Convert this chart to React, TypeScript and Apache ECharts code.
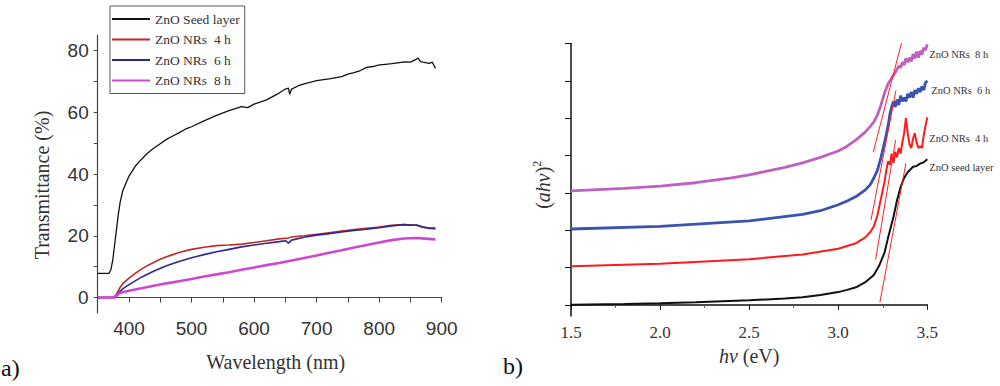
import React, { useEffect, useRef } from "react";
import * as echarts from "echarts";

// ---------- (a) Transmittance ----------
const seedWl = [350, 360, 368, 371, 374, 377, 380, 383, 386, 390, 395, 400, 410, 420, 430, 440, 450, 460, 470, 480, 490, 500, 520, 540, 560, 580, 590, 600, 620, 640, 650, 655, 657, 660, 670, 680, 700, 720, 740, 750, 760, 770, 780, 790, 800, 810, 820, 830, 840, 850, 860, 862, 866, 870, 880, 885, 890];
const seedT = [7.8, 7.8, 7.8, 9, 12, 17, 22, 27, 31, 34.5, 37, 39.3, 42.5, 44.8, 46.8, 48.4, 49.8, 51.2, 52.3, 53.3, 54.5, 55.3, 57.2, 59, 60.5, 61.8, 61.5, 62.6, 64, 66.2, 67.5, 67.8, 65.8, 67.5, 68.5, 69.2, 70.2, 70.8, 71.5, 72.3, 72.8, 73.5, 74.5, 74.8, 75.3, 75.5, 75.7, 76.0, 76.3, 76.2, 77.2, 77.6, 76.4, 76.2, 75.8, 76.2, 74.2];

const nr4Wl = [350, 375, 380, 385, 390, 400, 410, 420, 430, 440, 450, 460, 470, 480, 500, 520, 540, 560, 580, 600, 620, 640, 655, 660, 680, 700, 720, 740, 760, 780, 800, 820, 840, 860, 870, 880, 890];
const nr4T = [0, 0, 1, 3, 4.5, 6.3, 7.8, 9.2, 10.4, 11.4, 12.4, 13.2, 13.9, 14.6, 15.6, 16.3, 16.8, 17.0, 17.3, 17.8, 18.4, 19.0, 19.3, 19.6, 20.0, 20.5, 21.0, 21.5, 22.0, 22.4, 22.8, 23.4, 23.6, 23.4, 22.8, 22.4, 22.2];

const nr6Wl = [350, 378, 383, 390, 400, 420, 440, 460, 480, 500, 520, 540, 560, 580, 600, 620, 640, 650, 655, 660, 680, 700, 720, 740, 760, 780, 800, 820, 840, 850, 860, 870, 880, 890];
const nr6T = [0, 0, 1.5, 2.8, 4.2, 6.6, 8.6, 10.3, 11.7, 12.9, 13.9, 14.8, 15.6, 16.4, 17.0, 17.6, 18.1, 18.4, 17.6, 18.6, 19.5, 20.2, 20.7, 21.2, 21.7, 22.1, 22.6, 23.2, 23.6, 23.4, 23.5, 22.8, 22.5, 22.5];

const nr8Wl = [350, 378, 385, 400, 420, 440, 460, 480, 500, 520, 540, 560, 580, 600, 620, 640, 660, 680, 700, 720, 740, 760, 780, 800, 820, 840, 860, 880, 890];
const nr8T = [0, 0, 1.5, 2.2, 3.0, 3.8, 4.6, 5.3, 6.0, 6.8, 7.5, 8.2, 9.0, 9.7, 10.5, 11.2, 12.0, 12.8, 13.6, 14.5, 15.3, 16.2, 17.0, 17.8, 18.6, 19.1, 19.3, 19.0, 18.8];

const namesA = ["ZnO Seed layer", "ZnO NRs  4 h", "ZnO NRs  6 h", "ZnO NRs  8 h"];
const xLabelsA = [400, 500, 600, 700, 800, 900];
const xTicksA = [350, 400, 450, 500, 550, 600, 650, 700, 750, 800, 850, 900];
const yLabelsA = [0, 20, 40, 60, 80];
const yTicksA = [0, 10, 20, 30, 40, 50, 60, 70, 80];

// ---------- (b) Tauc plot ----------
const seedEv = [1.5, 1.8, 2.0, 2.2, 2.5, 2.7, 2.8, 2.9, 3.0, 3.05, 3.1, 3.15, 3.2, 3.23, 3.26, 3.28, 3.31, 3.33, 3.35, 3.37, 3.39, 3.42, 3.44, 3.46, 3.48, 3.5];
const seedA = [0, 0.02, 0.04, 0.07, 0.12, 0.17, 0.2, 0.26, 0.34, 0.4, 0.47, 0.6, 0.8, 1.05, 1.4, 1.8, 2.35, 2.8, 3.15, 3.4, 3.55, 3.7, 3.72, 3.78, 3.82, 3.9];

const nr4Ev = [1.5, 2.0, 2.5, 2.8, 3.0, 3.1, 3.15, 3.18, 3.2, 3.22, 3.24, 3.26, 3.27, 3.28, 3.29, 3.3, 3.31, 3.32, 3.33, 3.34, 3.35, 3.36, 3.37, 3.38, 3.39, 3.4, 3.41, 3.42, 3.43, 3.44, 3.45, 3.46, 3.47, 3.48, 3.49, 3.5];
const nr4A = [1.03, 1.1, 1.22, 1.35, 1.5, 1.65, 1.8, 1.95, 2.1, 2.4, 2.85, 3.3, 3.6, 3.85, 3.75, 4.05, 3.8, 4.1, 3.95, 4.2, 4.05, 4.35, 4.6, 5.0, 4.6, 4.3, 4.2, 4.45, 4.6, 4.35, 4.2, 4.25, 4.2, 4.55, 4.8, 5.02];

const nr6Ev = [1.5, 2.0, 2.5, 2.8, 2.9, 3.0, 3.05, 3.1, 3.15, 3.18, 3.2, 3.22, 3.24, 3.26, 3.28, 3.29, 3.3, 3.31, 3.32, 3.33, 3.34, 3.35, 3.36, 3.37, 3.38, 3.39, 3.4, 3.41, 3.42, 3.43, 3.44, 3.45, 3.46, 3.47, 3.48, 3.49, 3.5];
const nr6A = [2.03, 2.1, 2.25, 2.42, 2.52, 2.68, 2.78, 2.9, 3.07, 3.22, 3.4, 3.6, 3.95, 4.35, 4.8, 5.1, 5.3, 5.45, 5.3, 5.5, 5.35, 5.6, 5.45, 5.55, 5.45, 5.65, 5.55, 5.7, 5.55, 5.75, 5.65, 5.8, 5.7, 5.85, 5.75, 5.95, 6.0];

const nr8Ev = [1.5, 1.8, 2.0, 2.2, 2.4, 2.5, 2.6, 2.7, 2.8, 2.9, 3.0, 3.05, 3.1, 3.15, 3.18, 3.2, 3.22, 3.24, 3.26, 3.28, 3.3, 3.32, 3.34, 3.35, 3.36, 3.37, 3.38, 3.39, 3.4, 3.41, 3.42, 3.43, 3.44, 3.45, 3.46, 3.47, 3.48, 3.49, 3.5];
const nr8A = [3.05, 3.12, 3.18, 3.27, 3.4, 3.48, 3.58, 3.68, 3.8, 3.95, 4.12, 4.25, 4.42, 4.62, 4.78, 4.9, 5.08, 5.35, 5.68, 5.92, 6.08, 6.22, 6.4, 6.35, 6.5, 6.42, 6.6, 6.5, 6.62, 6.52, 6.72, 6.6, 6.78, 6.62, 6.8, 6.7, 6.88, 6.82, 6.98];

// tangent (extrapolation) lines: [eV start, eV end], [value start, value end]
const tanSeedEv = [3.234, 3.38];
const tanSeedA = [0.07, 3.79];
const tan4Ev = [3.21, 3.322];
const tan4A = [1.21, 4.41];
const tan6Ev = [3.184, 3.324];
const tan6A = [2.27, 5.74];
const tan8Ev = [3.197, 3.356];
const tan8A = [4.1, 7.03];

const namesB = ["ZnO seed layer", "ZnO NRs  4 h", "ZnO NRs  6 h", "ZnO NRs  8 h"];
const xLabelsB = [1.5, 2.0, 2.5, 3.0, 3.5];
const yTicksB = [0, 1, 2, 3, 4, 5, 6, 7];

const SERIF = "Liberation Serif, Times New Roman, serif";
const SANS = "Liberation Sans, Arial, sans-serif";

const zip = (xs: number[], ys: number[]) => xs.map((x, i) => [x, ys[i]]);

export default function App() {
  const ref = useRef<HTMLDivElement>(null);
  useEffect(() => {
    document.body.style.margin = "0";
    const chart = echarts.init(ref.current!, null, { renderer: "svg" });

    const lineA = (name: string, xs: number[], ys: number[], color: string, width: number) => ({
      name,
      type: "line",
      xAxisIndex: 0,
      yAxisIndex: 0,
      data: zip(xs, ys),
      showSymbol: false,
      symbol: "none",
      lineStyle: { color, width },
      itemStyle: { color },
      silent: true,
    });
    const lineB = (
      label: string,
      xs: number[],
      ys: number[],
      color: string,
      width: number,
      offset: number[]
    ) => ({
      name: "b " + label,
      type: "line",
      xAxisIndex: 1,
      yAxisIndex: 1,
      data: zip(xs, ys),
      showSymbol: false,
      symbol: "none",
      lineStyle: { color, width },
      itemStyle: { color },
      silent: true,
      endLabel: {
        show: true,
        formatter: label,
        offset,
        distance: 2,
        fontFamily: SERIF,
        fontSize: 10.5,
        color: "#333",
      },
    });
    const tangent = (xs: number[], ys: number[]) => ({
      type: "line",
      xAxisIndex: 1,
      yAxisIndex: 1,
      data: zip(xs, ys),
      showSymbol: false,
      symbol: "none",
      lineStyle: { color: "#ff2020", width: 1 },
      silent: true,
    });

    chart.setOption({
      animation: false,
      backgroundColor: "#ffffff",
      grid: [
        { left: 97.7, top: 35, width: 344, height: 278 },
        { left: 571, top: 43.5, width: 356.3, height: 272.5 },
      ],
      legend: {
        data: namesA,
        orient: "vertical",
        left: 110,
        top: 6,
        padding: [6, 5, 6, 2],
        itemGap: 6.5,
        itemWidth: 38,
        itemHeight: 2,
        icon: "rect",
        borderColor: "#555",
        borderWidth: 1,
        selectedMode: false,
        textStyle: { fontFamily: SERIF, fontSize: 13.5, color: "#333", lineHeight: 14 },
      },
      xAxis: [
        {
          type: "value",
          gridIndex: 0,
          min: 350,
          max: 900,
          splitLine: { show: false },
          axisLine: { lineStyle: { color: "#444", width: 1.2 } },
          axisTick: { customValues: xTicksA, length: 5, lineStyle: { color: "#444" } },
          axisLabel: { customValues: xLabelsA, fontFamily: SANS, fontSize: 19, color: "#333", margin: 6 },
          name: "Wavelength (nm)",
          nameLocation: "middle",
          nameGap: 39,
          nameTextStyle: { fontFamily: SERIF, fontSize: 20, color: "#333", padding: [0, 0, 0, 12] },
        },
        {
          type: "value",
          gridIndex: 1,
          min: 1.5,
          max: 3.5,
          interval: 0.5,
          splitLine: { show: false },
          axisLine: { lineStyle: { color: "#111", width: 1.5 } },
          axisTick: { length: 5, lineStyle: { color: "#111" } },
          minorTick: { show: true, splitNumber: 2, length: 3, lineStyle: { color: "#555" } },
          axisLabel: {
            customValues: xLabelsB,
            formatter: (v: number) => v.toFixed(1),
            fontFamily: SERIF,
            fontSize: 17,
            color: "#333",
            margin: 8,
          },
          name: "{i|hv} (eV)",
          nameLocation: "middle",
          nameGap: 30,
          nameTextStyle: {
            fontFamily: SERIF,
            fontSize: 20,
            color: "#333",
            rich: { i: { fontFamily: SERIF, fontSize: 20, fontStyle: "italic", color: "#333" } },
          },
        },
      ],
      yAxis: [
        {
          type: "value",
          gridIndex: 0,
          min: -5,
          max: 85,
          splitLine: { show: false },
          axisLine: { show: true, lineStyle: { color: "#444", width: 1.2 } },
          axisTick: { show: true, customValues: yTicksA, length: 4, lineStyle: { color: "#444" } },
          axisLabel: { customValues: yLabelsA, fontFamily: SANS, fontSize: 19, color: "#333", margin: 9 },
          name: "Transmittance (%)",
          nameLocation: "middle",
          nameRotate: 90,
          nameGap: 46,
          nameTextStyle: { fontFamily: SERIF, fontSize: 20, color: "#333", padding: [0, 22, 0, 0] },
        },
        {
          type: "value",
          gridIndex: 1,
          min: -0.3,
          max: 7,
          splitLine: { show: false },
          axisLine: { show: true, lineStyle: { color: "#111", width: 1.5 } },
          axisTick: { show: true, customValues: yTicksB, length: 6, lineStyle: { color: "#111" } },
          axisLabel: { show: false },
          name: "{p|(}{i|ahv}{p|)}{s|2}",
          nameLocation: "middle",
          nameRotate: 90,
          nameGap: 16,
          nameTextStyle: {
            fontFamily: SERIF,
            fontSize: 20,
            color: "#333",
            padding: [0, 10, 0, 0],
            rich: {
              p: { fontFamily: SERIF, fontSize: 20, color: "#333", lineHeight: 24 },
              i: { fontFamily: SERIF, fontSize: 20, fontStyle: "italic", color: "#333", lineHeight: 24 },
              s: { fontFamily: SERIF, fontSize: 12, color: "#333", lineHeight: 24, verticalAlign: "top" },
            },
          },
        },
      ],
      graphic: [
        { type: "text", left: 1, top: 356, style: { text: "a)", fontFamily: SERIF, fontSize: 24, fill: "#111" } },
        { type: "text", left: 503, top: 354, style: { text: "b)", fontFamily: SERIF, fontSize: 24, fill: "#111" } },
      ],
      series: [
        lineA(namesA[0], seedWl, seedT, "#111111", 1.3),
        lineA(namesA[1], nr4Wl, nr4T, "#c0282a", 1.6),
        lineA(namesA[2], nr6Wl, nr6T, "#2a2a90", 1.6),
        lineA(namesA[3], nr8Wl, nr8T, "#cc48cc", 2.6),
        lineB(namesB[0], seedEv, seedA, "#111111", 2, [0, 8]),
        lineB(namesB[1], nr4Ev, nr4A, "#ff1a1a", 2, [0, 21]),
        lineB(namesB[2], nr6Ev, nr6A, "#3a52b0", 2.8, [2, 10]),
        lineB(namesB[3], nr8Ev, nr8A, "#c060c0", 2.8, [0, 10]),
        tangent(tanSeedEv, tanSeedA),
        tangent(tan4Ev, tan4A),
        tangent(tan6Ev, tan6A),
        tangent(tan8Ev, tan8A),
      ],
    });
    return () => chart.dispose();
  }, []);
  return <div ref={ref} style={{ width: 1000, height: 386 }} />;
}
